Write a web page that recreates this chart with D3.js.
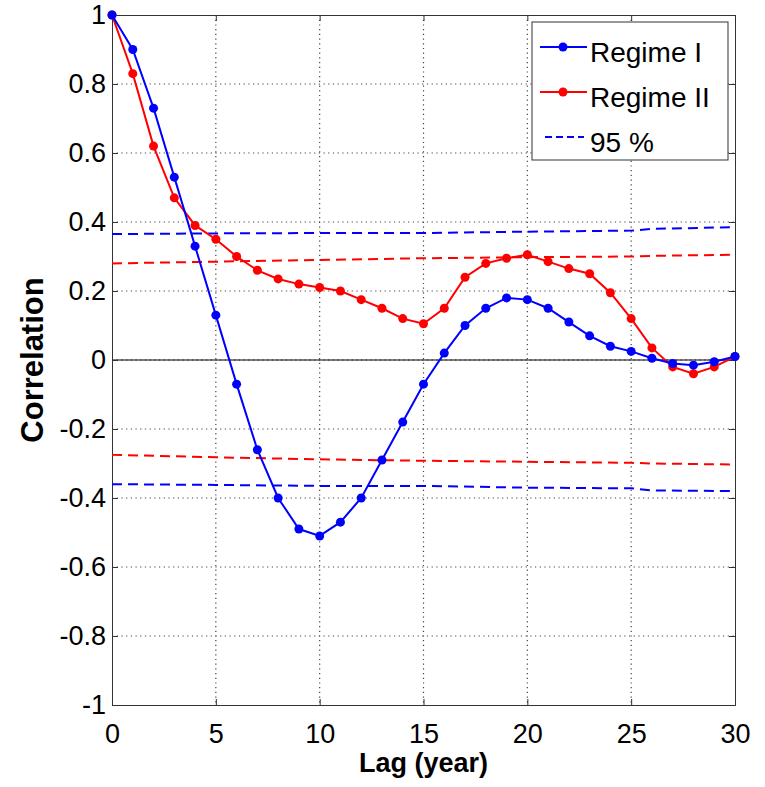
<!DOCTYPE html>
<html>
<head>
<meta charset="utf-8">
<script src="https://cdn.jsdelivr.net/npm/d3@7"></script>
<style>
  body { margin: 0; background: #fff; }
  text { font-family: "Liberation Sans", Arial, sans-serif; }
</style>
</head>
<body>
<div id="chart"></div>
<script>
// lags 0..30
const lags = d3.range(0, 31);
const regime1 = [1, 0.90, 0.73, 0.53, 0.33, 0.13, -0.07, -0.26, -0.40, -0.49, -0.51,
                 -0.47, -0.40, -0.29, -0.18, -0.07, 0.02, 0.10, 0.15, 0.18, 0.175,
                 0.15, 0.11, 0.07, 0.04, 0.025, 0.005, -0.01, -0.015, -0.005, 0.01];
const regime2 = [1, 0.83, 0.62, 0.47, 0.39, 0.35, 0.30, 0.26, 0.235, 0.22, 0.21,
                 0.20, 0.175, 0.15, 0.12, 0.105, 0.15, 0.24, 0.28, 0.295, 0.305,
                 0.285, 0.265, 0.25, 0.195, 0.12, 0.035, -0.02, -0.04, -0.02, 0.01];

// 95% significance levels
const ciLags = [0, 5, 10, 15, 20, 25, 26, 30];
const ci1Upper = [0.365, 0.367, 0.368, 0.368, 0.372, 0.375, 0.38, 0.385];
const ci1Lower = [-0.36, -0.362, -0.365, -0.365, -0.37, -0.372, -0.378, -0.38];
const ci2Upper = [0.28, 0.285, 0.29, 0.295, 0.298, 0.30, 0.302, 0.305];
const ci2Lower = [-0.275, -0.282, -0.288, -0.292, -0.295, -0.298, -0.30, -0.303];

const xTicks = [0, 5, 10, 15, 20, 25, 30];
const yTicks = [-1, -0.8, -0.6, -0.4, -0.2, 0, 0.2, 0.4, 0.6, 0.8, 1];

const margin = { top: 15, right: 30, bottom: 82, left: 112 },
      width = 765 - margin.left - margin.right,
      height = 787 - margin.top - margin.bottom;

const svg = d3.select("#chart")
    .append("svg")
    .attr("width", 765)
    .attr("height", 787)
    .append("g")
    .attr("transform", `translate(${margin.left},${margin.top})`);

const x = d3.scaleLinear().domain([0, 30]).range([0, width]);
const y = d3.scaleLinear().domain([-1, 1]).range([height, 0]);

// grid
svg.append("g")
    .selectAll("line")
    .data(xTicks.slice(1, -1))
    .join("line")
    .attr("x1", d => x(d)).attr("x2", d => x(d))
    .attr("y1", 0).attr("y2", height)
    .attr("stroke", "#444").attr("stroke-width", 1.2)
    .attr("stroke-dasharray", "1.2,3.5");

svg.append("g")
    .selectAll("line")
    .data(yTicks.slice(1, -1))
    .join("line")
    .attr("x1", 0).attr("x2", width)
    .attr("y1", d => y(d)).attr("y2", d => y(d))
    .attr("stroke", "#444").attr("stroke-width", 1.2)
    .attr("stroke-dasharray", "1.2,3.5");

// zero line
svg.append("line")
    .attr("x1", 0).attr("x2", width)
    .attr("y1", y(0)).attr("y2", y(0))
    .attr("stroke", "black").attr("stroke-width", 1);

// axes (ticks inward, MATLAB style)
const xAxis = svg.append("g")
    .attr("transform", `translate(0,${height})`)
    .call(d3.axisBottom(x).tickValues(xTicks).tickSize(-6).tickPadding(19));
const yAxis = svg.append("g")
    .call(d3.axisLeft(y).tickValues(yTicks).tickSize(-6).tickPadding(6)
        .tickFormat(d => String(+d.toFixed(1))));
svg.append("g")
    .call(d3.axisTop(x).tickValues(xTicks).tickSize(-6).tickFormat(""));
svg.append("g")
    .attr("transform", `translate(${width},0)`)
    .call(d3.axisRight(y).tickValues(yTicks).tickSize(-6).tickFormat(""));

svg.selectAll(".domain").attr("stroke", "#333");
svg.selectAll(".tick line").attr("stroke", "#333");
xAxis.selectAll("text").style("font-size", "27px").attr("fill", "black");
yAxis.selectAll("text").style("font-size", "27px").attr("fill", "black");

// 95% lines
const line = d3.line().x(d => x(d[0])).y(d => y(d[1]));
[[ci1Upper, "#0000ff"], [ci1Lower, "#0000ff"], [ci2Upper, "#ff0000"], [ci2Lower, "#ff0000"]]
    .forEach(([vals, col]) => {
        svg.append("path")
            .datum(ciLags.map((l, i) => [l, vals[i]]))
            .attr("d", line)
            .attr("fill", "none")
            .attr("stroke", col)
            .attr("stroke-width", 2)
            .attr("stroke-dasharray", "10,6");
    });

// series
const series = [
    { name: "Regime II", values: regime2, color: "#ff0000" },
    { name: "Regime I", values: regime1, color: "#0000ff" }
];
series.forEach(s => {
    const pts = lags.map((l, i) => [l, s.values[i]]);
    svg.append("path")
        .datum(pts)
        .attr("d", line)
        .attr("fill", "none")
        .attr("stroke", s.color)
        .attr("stroke-width", 2);
    svg.append("g")
        .selectAll("circle")
        .data(pts)
        .join("circle")
        .attr("cx", d => x(d[0]))
        .attr("cy", d => y(d[1]))
        .attr("r", 4.5)
        .attr("fill", s.color);
});

// axis labels
svg.append("text")
    .attr("x", width / 2)
    .attr("y", height + 67)
    .attr("text-anchor", "middle")
    .attr("font-size", "27px")
    .attr("font-weight", "bold")
    .text("Lag (year)");

svg.append("text")
    .attr("transform", "rotate(-90)")
    .attr("x", -(y(0)))
    .attr("y", -margin.left + 43)
    .attr("text-anchor", "middle")
    .attr("font-size", "31px")
    .attr("font-weight", "bold")
    .text("Correlation");

// legend
const lg = svg.append("g").attr("transform", `translate(${532 - margin.left},${22 - margin.top})`);
lg.append("rect")
    .attr("width", 196).attr("height", 138)
    .attr("fill", "white").attr("stroke", "#333").attr("stroke-width", 1);
const legendItems = [
    { label: "Regime I", color: "#0000ff", marker: true, dash: null },
    { label: "Regime II", color: "#ff0000", marker: true, dash: null },
    { label: "95 %", color: "#0000ff", marker: false, dash: "7,4" }
];
legendItems.forEach((d, i) => {
    const yy = 25 + i * 45;
    lg.append("line")
        .attr("x1", d.marker ? 8 : 13).attr("x2", d.marker ? 55 : 52)
        .attr("y1", yy).attr("y2", yy)
        .attr("stroke", d.color).attr("stroke-width", 2)
        .attr("stroke-dasharray", d.dash);
    if (d.marker) {
        lg.append("circle").attr("cx", 31).attr("cy", yy).attr("r", 4.5).attr("fill", d.color);
    }
    lg.append("text")
        .attr("x", 58).attr("y", yy + 5)
        .attr("dy", "0.35em")
        .attr("font-size", "28px")
        .text(d.label);
});
</script>
</body>
</html>
